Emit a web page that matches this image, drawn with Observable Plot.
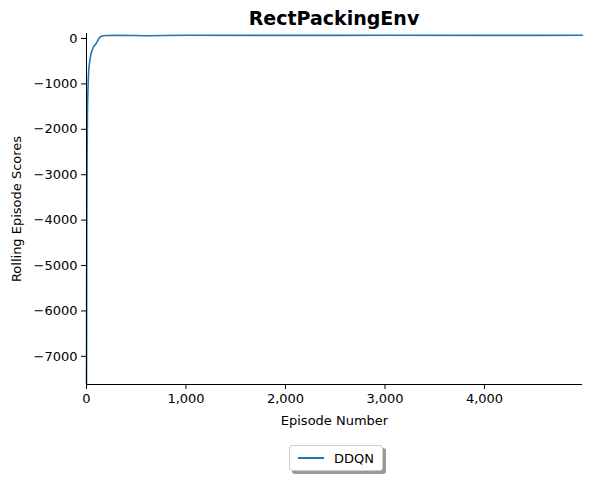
<!DOCTYPE html>
<html><head><meta charset="utf-8">
<script src="https://cdn.jsdelivr.net/npm/d3@7"></script>
<script src="https://cdn.jsdelivr.net/npm/@observablehq/plot@0.6"></script>
<style>
body{margin:0;background:#fff;font-family:"DejaVu Sans",sans-serif;}
#wrap{width:592px;position:relative;}
h1{margin:0;position:absolute;top:7px;left:86px;width:496px;text-align:center;font-size:19px;font-weight:bold;}
#legend{position:absolute;top:445px;left:289px;width:92px;height:24px;border:1px solid #ccc;border-radius:3px;background:#fff;box-shadow:3px 3px 0 #999;font-size:13px;display:flex;align-items:center;}
#legend span.l{display:inline-block;width:26px;height:2px;background:#1f77b4;margin:0 10px 0 8px;}
</style></head><body>
<div id="wrap"><h1>RectPackingEnv</h1><div id="plot"></div>
<div id="legend"><span class="l"></span>DDQN</div></div>
<script>
const episodes = [0, 3, 6, 10, 15, 20, 30, 40, 55, 70, 85, 100, 110, 120, 135, 160, 200, 300, 600, 1000, 2000, 3000, 4000, 4985];
const scores = [-7600, -4200, -2600, -1600, -1100, -800, -550, -400, -270, -190, -140, -100, -60, -20, 30, 55, 65, 68, 62, 70, 68, 70, 68, 70];
const data = episodes.map((e, i) => ({episode: e, score: scores[i]}));

const plot = Plot.plot({
  width: 592, height: 480,
  marginLeft: 86, marginRight: 10, marginTop: 33, marginBottom: 96,
  style: {fontFamily: "DejaVu Sans", fontSize: "13px", color: "#000"},
  x: {domain: [0, 4985], ticks: [0, 1000, 2000, 3000, 4000], tickFormat: d => d, label: "Episode Number", labelAnchor: "center", labelOffset: 40, tickSize: 5},
  y: {domain: [-7620, 110], ticks: [0, -1000, -2000, -3000, -4000, -5000, -6000, -7000], tickFormat: d => d < 0 ? "\u2212" + Math.abs(d) : d, label: "Rolling Episode Scores", labelAnchor: "center", labelOffset: 75, tickSize: 5},
  marks: [
    Plot.line(data, {x: "episode", y: "score", stroke: "#1f77b4", strokeWidth: 1.6, curve: "monotone-x"}),
    Plot.axisX({ticks: [0, 1000, 2000, 3000, 4000], tickFormat: d => d, label: "Episode Number", labelAnchor: "center", labelOffset: 40, labelArrow: "none", tickSize: 5}),
    Plot.axisY({ticks: [0, -1000, -2000, -3000, -4000, -5000, -6000, -7000], tickFormat: d => d < 0 ? "\u2212" + Math.abs(d) : d, label: "Rolling Episode Scores", labelAnchor: "center", labelOffset: 75, labelArrow: "none", tickSize: 5}),
    Plot.ruleX([0], {stroke: "#000"}),
    Plot.ruleY([-7620], {stroke: "#000"})
  ]
});
document.getElementById("plot").appendChild(plot);
</script></body></html>
